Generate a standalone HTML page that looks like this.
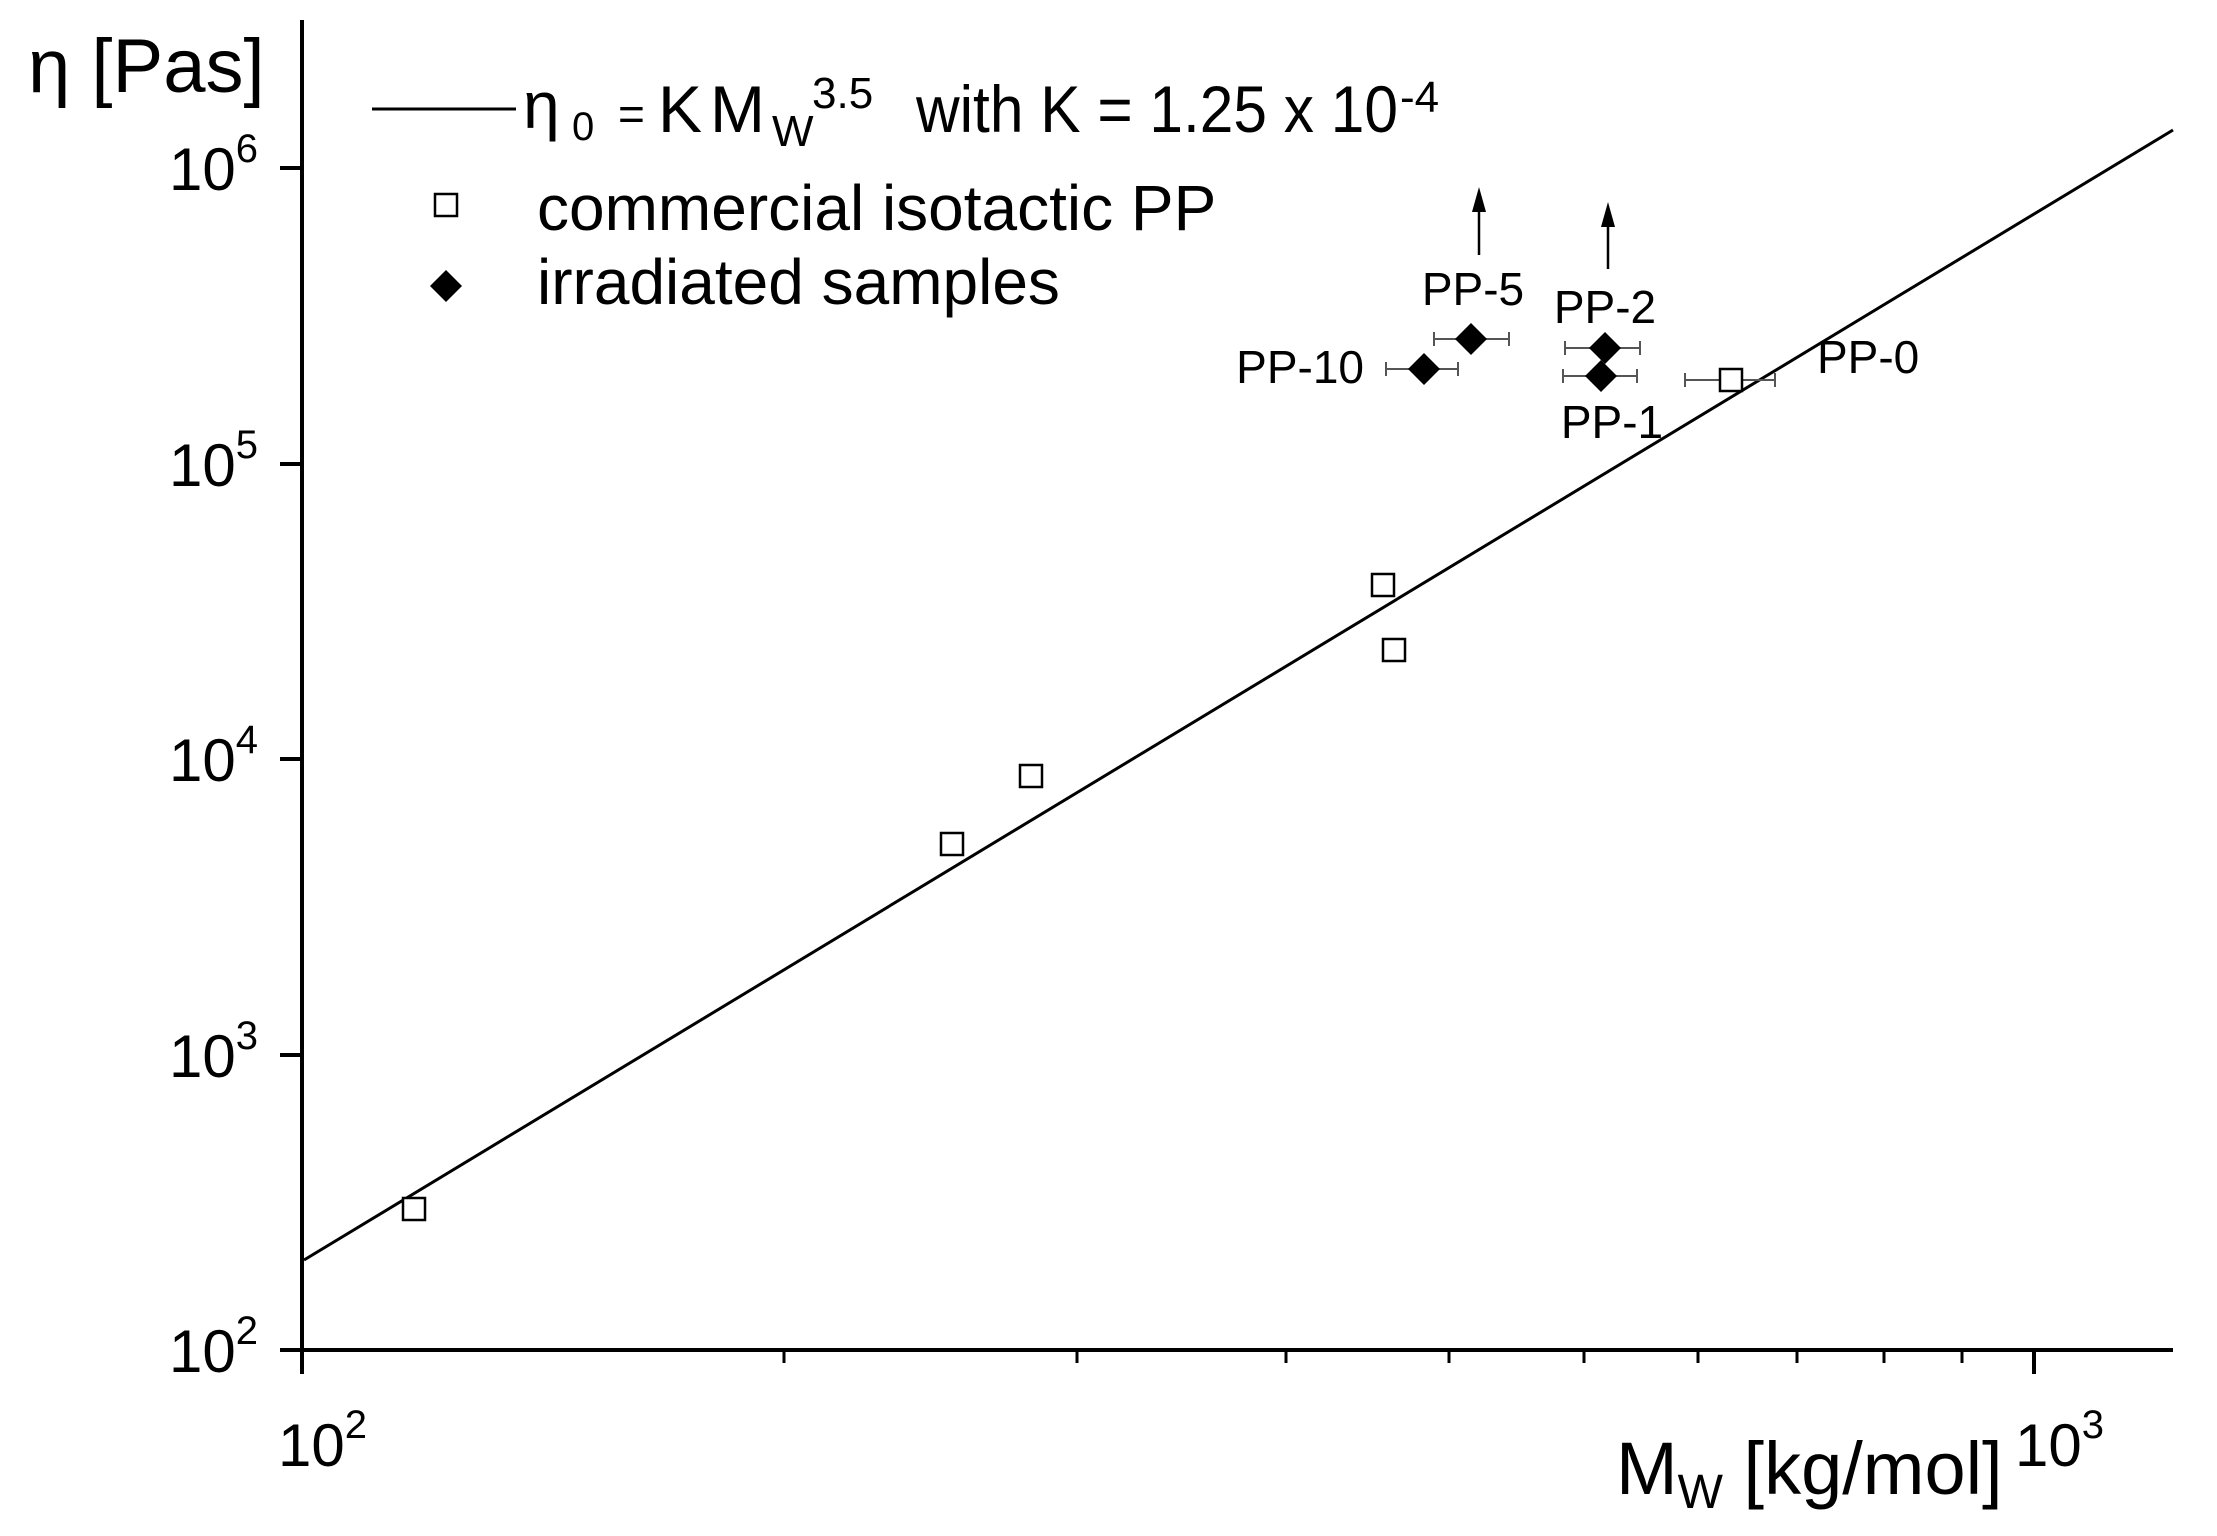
<!DOCTYPE html>
<html><head><meta charset="utf-8"><style>
html,body{margin:0;padding:0;background:#fff}
svg{display:block}
text{font-family:"Liberation Sans",Arial,sans-serif;fill:#000}
</style></head><body>
<svg width="2217" height="1536" viewBox="0 0 2217 1536" xmlns="http://www.w3.org/2000/svg">
<g stroke="#000" stroke-width="4" fill="none">
<line x1="302" y1="20" x2="302" y2="1352"/>
<line x1="300" y1="1350" x2="2173" y2="1350"/>
<line x1="302" y1="1350" x2="302" y2="1374"/>
<line x1="2034" y1="1350" x2="2034" y2="1374"/>
<line x1="280" y1="1350" x2="302" y2="1350"/>
<line x1="280" y1="1055" x2="302" y2="1055"/>
<line x1="280" y1="759" x2="302" y2="759"/>
<line x1="280" y1="464" x2="302" y2="464"/>
<line x1="280" y1="168" x2="302" y2="168"/>
</g>
<g stroke="#000" stroke-width="3">
<line x1="784" y1="1350" x2="784" y2="1363"/>
<line x1="1077" y1="1350" x2="1077" y2="1363"/>
<line x1="1286" y1="1350" x2="1286" y2="1363"/>
<line x1="1449" y1="1350" x2="1449" y2="1363"/>
<line x1="1584" y1="1350" x2="1584" y2="1363"/>
<line x1="1698" y1="1350" x2="1698" y2="1363"/>
<line x1="1797" y1="1350" x2="1797" y2="1363"/>
<line x1="1884" y1="1350" x2="1884" y2="1363"/>
<line x1="1962" y1="1350" x2="1962" y2="1363"/>
</g>
<!-- y tick labels -->
<g font-size="60" text-anchor="end">
<text x="258" y="190">10<tspan font-size="40" dy="-28">6</tspan></text>
<text x="258" y="486">10<tspan font-size="40" dy="-28">5</tspan></text>
<text x="258" y="781">10<tspan font-size="40" dy="-28">4</tspan></text>
<text x="258" y="1077">10<tspan font-size="40" dy="-28">3</tspan></text>
<text x="258" y="1372">10<tspan font-size="40" dy="-28">2</tspan></text>
</g>
<text x="278" y="1466" font-size="60">10<tspan font-size="40" dy="-28">2</tspan></text>
<text x="2015" y="1466" font-size="60">10<tspan font-size="40" dy="-28">3</tspan></text>
<text x="28" y="92" font-size="76">η [Pas]</text>
<text x="1616" y="1494" font-size="74">M<tspan font-size="48" dy="14">W</tspan><tspan dy="-14"> [kg/mol]</tspan></text>
<!-- fit line -->
<line x1="304" y1="1260" x2="2173" y2="130" stroke="#000" stroke-width="3"/>
<!-- error bars -->
<g stroke="#555" stroke-width="2">
<line x1="1386" y1="369" x2="1458" y2="369"/><line x1="1386" y1="362" x2="1386" y2="376"/><line x1="1458" y1="362" x2="1458" y2="376"/>
<line x1="1434" y1="339" x2="1509" y2="339"/><line x1="1434" y1="332" x2="1434" y2="346"/><line x1="1509" y1="332" x2="1509" y2="346"/>
<line x1="1565" y1="348" x2="1640" y2="348"/><line x1="1565" y1="341" x2="1565" y2="355"/><line x1="1640" y1="341" x2="1640" y2="355"/>
<line x1="1563" y1="376" x2="1637" y2="376"/><line x1="1563" y1="369" x2="1563" y2="383"/><line x1="1637" y1="369" x2="1637" y2="383"/>
<line x1="1685" y1="380" x2="1775" y2="380"/><line x1="1685" y1="373" x2="1685" y2="387"/><line x1="1775" y1="373" x2="1775" y2="387"/>
</g>
<!-- squares -->
<g fill="#fff" stroke="#000" stroke-width="2.5">
<rect x="403" y="1198" width="22" height="22"/>
<rect x="941" y="833" width="22" height="22"/>
<rect x="1020" y="765" width="22" height="22"/>
<rect x="1372" y="574" width="22" height="22"/>
<rect x="1383" y="639" width="22" height="22"/>
<rect x="1720" y="369" width="22" height="22"/>
</g>
<!-- diamonds -->
<g fill="#000">
<polygon points="1424,353 1440,369 1424,385 1408,369"/>
<polygon points="1471,323 1487,339 1471,355 1455,339"/>
<polygon points="1605,332 1621,348 1605,364 1589,348"/>
<polygon points="1601,360 1617,376 1601,392 1585,376"/>
</g>
<!-- arrows -->
<g stroke="#000" stroke-width="2.5">
<line x1="1479" y1="255" x2="1479" y2="205"/>
<line x1="1608" y1="269" x2="1608" y2="220"/>
</g>
<polygon points="1479,187 1472,212 1486,212" fill="#000"/>
<polygon points="1608,202 1601,227 1615,227" fill="#000"/>
<!-- point labels -->
<g font-size="46">
<text x="1473" y="305" text-anchor="middle">PP-5</text>
<text x="1605" y="323" text-anchor="middle">PP-2</text>
<text x="1364" y="383" text-anchor="end">PP-10</text>
<text x="1612" y="438" text-anchor="middle">PP-1</text>
<text x="1817" y="373">PP-0</text>
</g>
<!-- legend -->
<line x1="372" y1="109" x2="516" y2="109" stroke="#000" stroke-width="3"/>
<text x="523" y="128" font-size="66" font-family="Liberation Serif">η</text>
<text x="572" y="140" font-size="40" font-family="Liberation Serif">0</text>
<text x="618" y="130" font-size="46">=</text>
<text x="658" y="132" font-size="66">K</text>
<text x="710" y="132" font-size="66">M</text>
<text x="772" y="146" font-size="44">W</text>
<text x="812" y="108" font-size="44">3.5</text>
<text x="916" y="132" font-size="66" textLength="482" lengthAdjust="spacingAndGlyphs">with K = 1.25 x 10</text>
<text x="1400" y="112" font-size="44">-4</text>
<rect x="435" y="194" width="22" height="22" fill="#fff" stroke="#000" stroke-width="2.5"/>
<text x="537" y="230" font-size="64">commercial isotactic PP</text>
<polygon points="446,270 462,286 446,302 430,286" fill="#000"/>
<text x="537" y="304" font-size="64">irradiated samples</text>
</svg>
</body></html>
